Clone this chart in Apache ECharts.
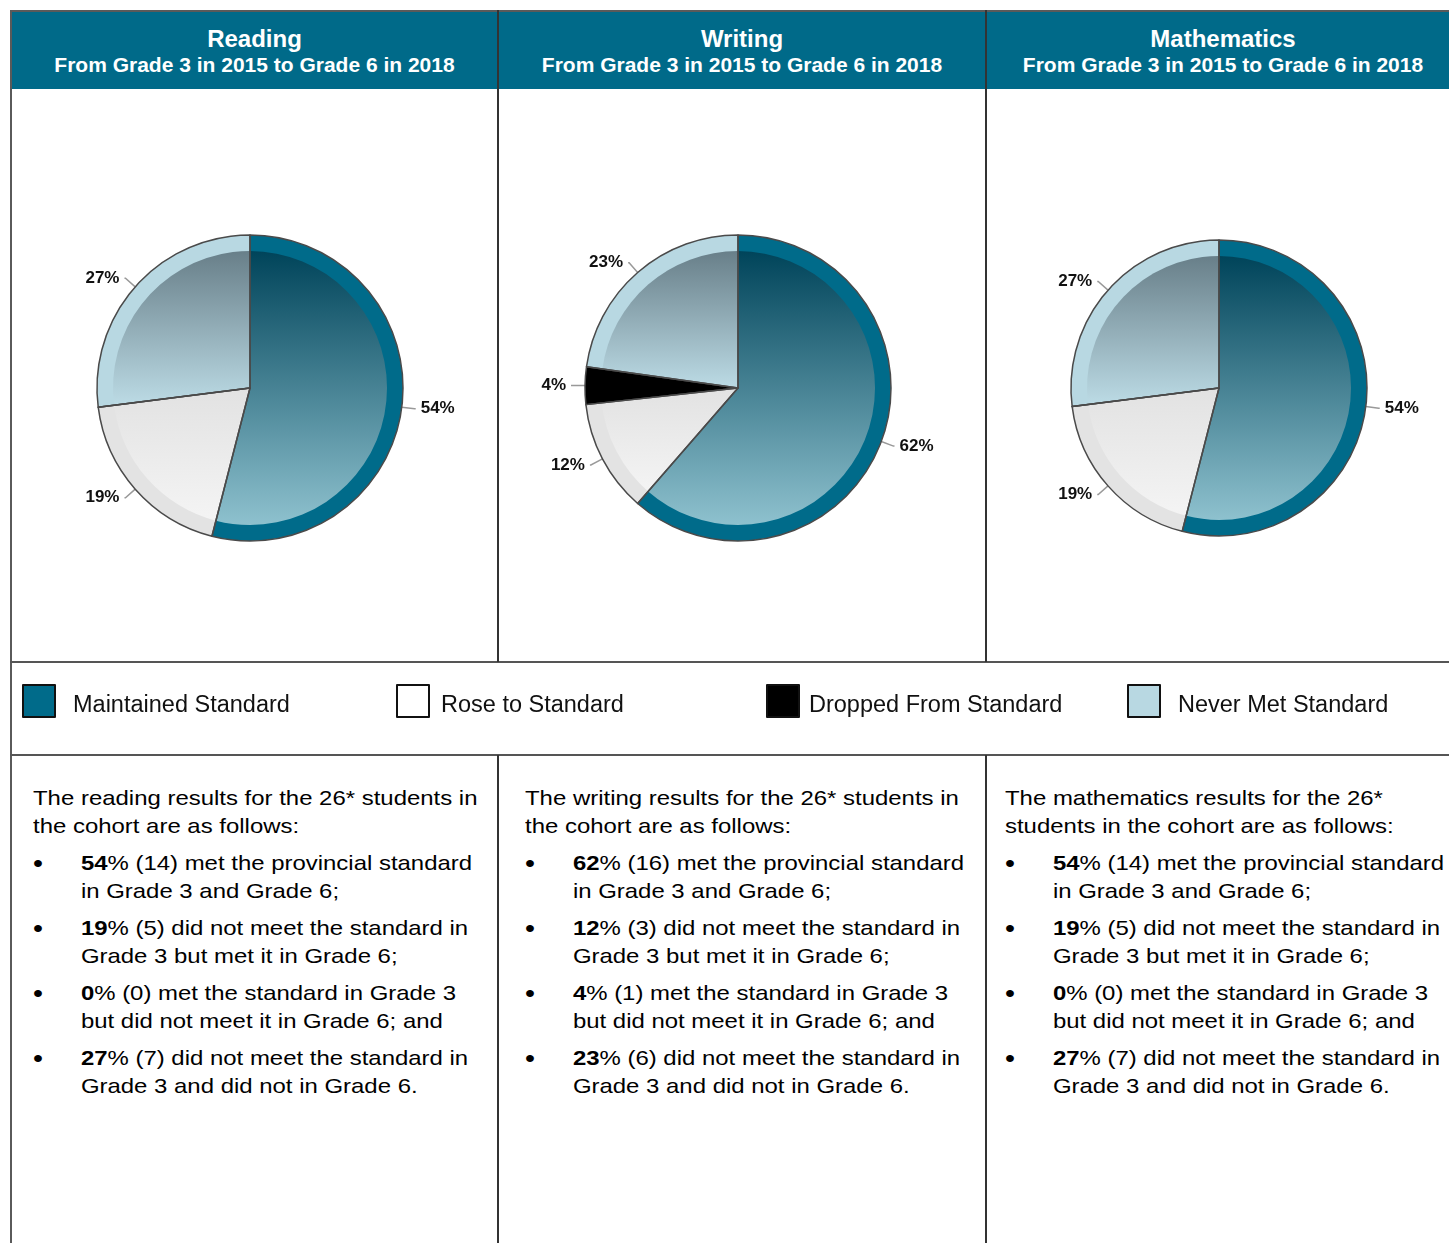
<!DOCTYPE html>
<html>
<head>
<meta charset="utf-8">
<script src="https://cdn.jsdelivr.net/npm/echarts@6/dist/echarts.min.js"></script>
<style>
body{margin:0;width:1449px;height:1243px;overflow:hidden;background:#fff;position:relative;font-family:"Liberation Sans",Arial,sans-serif;color:#000}
.ln{position:absolute;background:#555}
.hd{position:absolute;top:11px;height:78px;background:#006a89;color:#fff;font-weight:bold;text-align:center}
.hd .t{font-size:24px;line-height:26px;padding-top:15px}
.hd .s{font-size:21px;line-height:25px}
.txt{position:absolute;top:784px;font-size:21px;line-height:28px;transform:scaleX(1.14);transform-origin:0 0;white-space:nowrap}
.txt .b{position:relative;padding-left:42px;margin-top:9px}
.txt .b:before{content:"\2022";position:absolute;left:0;top:0;font-size:25px}
#main{position:absolute;left:0;top:0;width:1449px;height:760px}
</style>
</head>
<body>
<div id="frame"></div>
<div id="main"></div>
<script>
// 数据
var subjects = ["Reading", "Writing", "Mathematics"];
var subtitle = "From Grade 3 in 2015 to Grade 6 in 2018";
var categories = ["Maintained Standard", "Rose to Standard", "Dropped From Standard", "Never Met Standard"];
var readingValues = [54, 19, 0, 27];
var writingValues = [62, 12, 4, 23];
var mathValues = [54, 19, 0, 27];
var readingCounts = [14, 5, 0, 7];
var writingCounts = [16, 3, 1, 6];
var mathCounts = [14, 5, 0, 7];
var cohortSize = 26;

var allValues = [readingValues, writingValues, mathValues];
var allCounts = [readingCounts, writingCounts, mathCounts];

// 表格框架
var frame = document.getElementById("frame");
var html = "";
function line(l, t, w, h, c) {
    return '<div class="ln" style="left:' + l + 'px;top:' + t + 'px;width:' + w + 'px;height:' + h + 'px;' + (c ? 'background:' + c : '') + '"></div>';
}
var hdLeft = [12, 499, 987];
var hdWidth = [485, 486, 472];
subjects.forEach(function (s, i) {
    html += '<div class="hd" style="left:' + hdLeft[i] + 'px;width:' + hdWidth[i] + 'px"><div class="t">' + s + '</div><div class="s">' + subtitle + '</div></div>';
});
html += line(10, 10, 1439, 2, "#5a5a5a");
html += line(10, 10, 2, 1233, "#5a5a5a");
html += line(10, 661, 1439, 2, "#555");
html += line(10, 754, 1439, 2, "#555");
[497, 985].forEach(function (x) {
    html += line(x, 10, 2, 652, "#333");
    html += line(x, 755, 2, 488, "#333");
});

// 文字说明
var intros = [
    "The reading results for the " + cohortSize + "* students in<br>the cohort are as follows:",
    "The writing results for the " + cohortSize + "* students in<br>the cohort are as follows:",
    "The mathematics results for the " + cohortSize + "*<br>students in the cohort are as follows:"
];
function bullets(v, c) {
    return [
        "<b>" + v[0] + "</b>% (" + c[0] + ") met the provincial standard<br>in Grade 3 and Grade 6;",
        "<b>" + v[1] + "</b>% (" + c[1] + ") did not meet the standard in<br>Grade 3 but met it in Grade 6;",
        "<b>" + v[2] + "</b>% (" + c[2] + ") met the standard in Grade 3<br>but did not meet it in Grade 6; and",
        "<b>" + v[3] + "</b>% (" + c[3] + ") did not meet the standard in<br>Grade 3 and did not in Grade 6."
    ];
}
var txtLeft = [33, 525, 1005];
subjects.forEach(function (s, i) {
    html += '<div class="txt" style="left:' + txtLeft[i] + 'px"><div>' + intros[i] + '</div>';
    bullets(allValues[i], allCounts[i]).forEach(function (b) {
        html += '<div class="b">' + b + '</div>';
    });
    html += '</div>';
});
frame.innerHTML = html;

// 饼图
var myChart = echarts.init(document.getElementById("main"));

var ringColors = ["#006b8a", "#e3e3e3", "#000000", "#b8d8e2"];
var innerColors = [
    ["#00445a", "#8ec1ce"],
    ["#e2e2e2", "#f4f4f4"],
    ["#000000", "#000000"],
    ["#687f89", "#bcdbe5"]
];
var legendColors = ["#006b8a", "#ffffff", "#000000", "#b8d8e2"];
var legendLeft = [22, 396, 766, 1127];
var legendPad = [13, 7, 5, 13];

var centers = [[250, 388], [738, 388], [1219, 388]];
var radii = [153, 153, 148];
var ring = 16;

var series = [];
allValues.forEach(function (vals, i) {
    // 外圈
    series.push({
        type: "pie",
        silent: true,
        center: centers[i],
        radius: [0, radii[i]],
        startAngle: 90,
        label: { show: false },
        labelLine: { show: false },
        data: categories.map(function (n, k) {
            return { name: n, value: vals[k], itemStyle: { color: ringColors[k] } };
        }),
    });
    // 内部渐变
    series.push({
        type: "pie",
        silent: true,
        center: centers[i],
        radius: [0, radii[i] - ring],
        startAngle: 90,
        label: { show: false },
        labelLine: { show: false },
        data: categories.map(function (n, k) {
            return {
                name: n,
                value: vals[k],
                itemStyle: {
                    color: new echarts.graphic.LinearGradient(0, 0, 0, 1, [
                        { offset: 0, color: innerColors[k][0] },
                        { offset: 1, color: innerColors[k][1] },
                    ]),
                },
            };
        }),
    });
    // 边框 + 标签
    series.push({
        type: "pie",
        silent: true,
        center: centers[i],
        radius: [0, radii[i]],
        startAngle: 90,
        itemStyle: {
            color: "transparent",
            borderColor: "#4a4a4a",
            borderWidth: 1.5,
        },
        label: {
            show: true,
            position: "outside",
            formatter: "{c}%",
            fontSize: 17,
            fontWeight: "bold",
            color: "#111",
            fontFamily: "Liberation Sans, Arial, sans-serif",
        },
        labelLine: {
            length: 13,
            length2: 1,
            lineStyle: { color: "#999", width: 1.5 },
        },
        data: categories.map(function (n, k) {
            return {
                name: n,
                value: vals[k],
                label: { show: vals[k] > 0 },
                labelLine: { show: vals[k] > 0 },
            };
        }),
    });
});

var option = {
    animation: false,
    legend: categories.map(function (n, k) {
        return {
            left: legendLeft[k],
            top: 684,
            padding: 0,
            icon: "rect",
            itemWidth: 32,
            itemHeight: 32,
            selectedMode: false,
            itemStyle: { color: legendColors[k], borderColor: "#111", borderWidth: 2 },
            formatter: function (name) {
                return "{t|" + name + "}";
            },
            textStyle: {
                color: "#111",
                fontFamily: "Liberation Sans, Arial, sans-serif",
                rich: {
                    t: {
                        fontSize: 23.5,
                        color: "#111",
                        fontFamily: "Liberation Sans, Arial, sans-serif",
                        padding: [10, 0, 0, legendPad[k]],
                    },
                },
            },
            data: [{ name: n, itemStyle: { color: legendColors[k] } }],
        };
    }),
    series: series,
};
myChart.setOption(option);
</script>
</body>
</html>
